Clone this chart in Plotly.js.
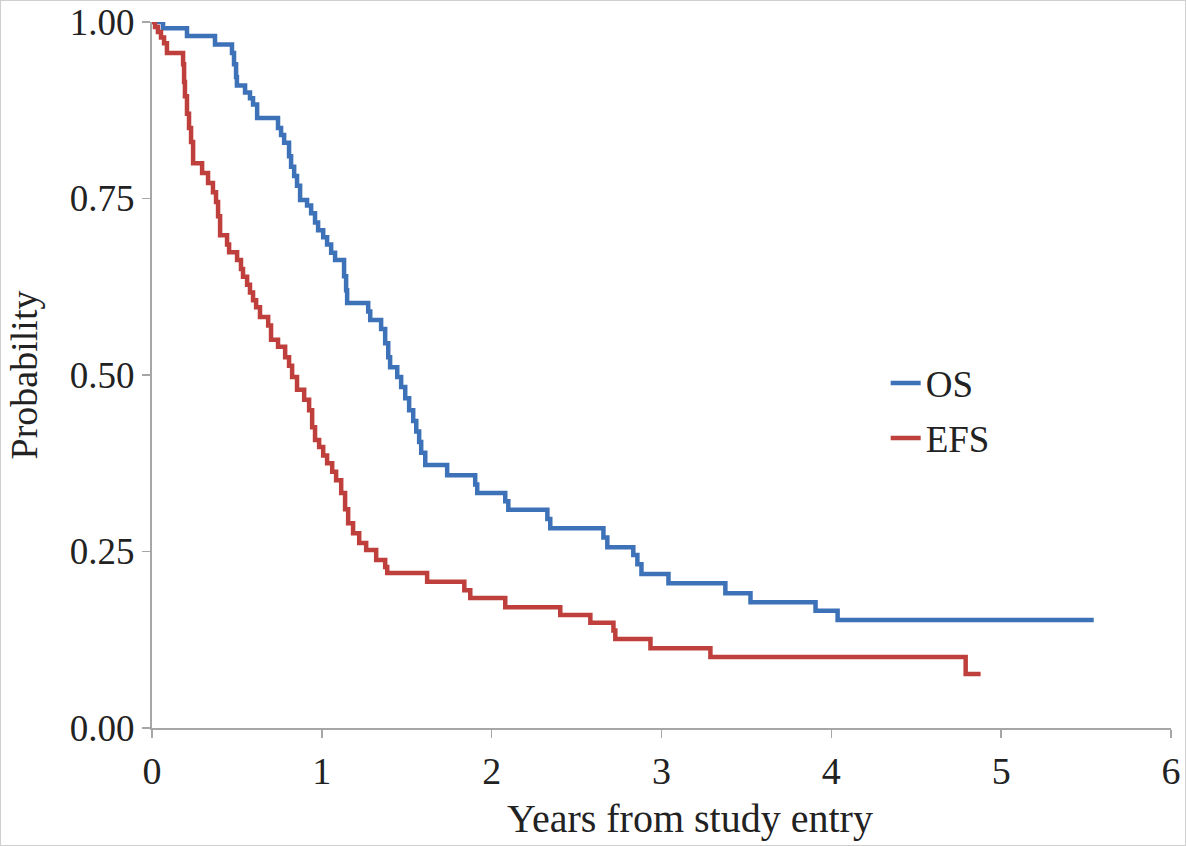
<!DOCTYPE html>
<html>
<head>
<meta charset="utf-8">
<script src="https://cdn.plot.ly/plotly-3.0.1.min.js"></script>
<style>
html,body{margin:0;padding:0;background:#fff;}
#chart{width:1186px;height:846px;box-sizing:border-box;border:1px solid #cfcfcf;}
</style>
</head>
<body>
<div id="chart"></div>
<script>
// Overall survival (OS): event times (years) and survival probability after each step
var osTime = [0, 0.065, 0.206, 0.371, 0.471, 0.483, 0.495, 0.50, 0.548, 0.577, 0.595, 0.619,
  0.742, 0.760, 0.778, 0.807, 0.819, 0.837, 0.854, 0.872, 0.913, 0.937, 0.960, 0.978, 1.008,
  1.031, 1.055, 1.078, 1.131, 1.143, 1.149, 1.273, 1.285, 1.349, 1.373, 1.391, 1.402, 1.444,
  1.467, 1.491, 1.514, 1.538, 1.556, 1.573, 1.585, 1.609, 1.738, 1.903, 1.915, 2.080, 2.098,
  2.328, 2.345, 2.658, 2.681, 2.834, 2.858, 2.882, 3.041, 3.376, 3.524, 3.907, 4.037, 5.545];
var osSurv = [1.0, 0.991, 0.980, 0.968, 0.956, 0.940, 0.922, 0.910, 0.900, 0.892, 0.883, 0.864,
  0.850, 0.840, 0.829, 0.810, 0.795, 0.782, 0.768, 0.748, 0.740, 0.729, 0.716, 0.705, 0.695,
  0.685, 0.673, 0.663, 0.640, 0.620, 0.602, 0.590, 0.578, 0.565, 0.545, 0.525, 0.511, 0.497,
  0.483, 0.467, 0.450, 0.435, 0.420, 0.405, 0.390, 0.3725, 0.358, 0.345, 0.333, 0.321, 0.309,
  0.296, 0.283, 0.270, 0.256, 0.245, 0.232, 0.218, 0.205, 0.191, 0.178, 0.166, 0.153, 0.153];

// Event-free survival (EFS)
var efsTime = [0, 0.018, 0.035, 0.053, 0.071, 0.088, 0.183, 0.189, 0.194, 0.206, 0.218, 0.230,
  0.242, 0.295, 0.330, 0.359, 0.377, 0.389, 0.401, 0.442, 0.454, 0.501, 0.524, 0.536, 0.560,
  0.577, 0.595, 0.613, 0.636, 0.684, 0.701, 0.742, 0.784, 0.807, 0.825, 0.854, 0.896, 0.925,
  0.943, 0.960, 0.984, 1.008, 1.031, 1.061, 1.084, 1.114, 1.137, 1.155, 1.184, 1.220, 1.261,
  1.320, 1.373, 1.385, 1.620, 1.839, 1.874, 2.080, 2.404, 2.581, 2.717, 2.728, 2.935, 3.288,
  4.791, 4.879];
var efsSurv = [1.0, 0.993, 0.986, 0.978, 0.970, 0.956, 0.940, 0.915, 0.895, 0.870, 0.850, 0.830,
  0.800, 0.786, 0.772, 0.759, 0.745, 0.725, 0.698, 0.685, 0.674, 0.663, 0.650, 0.639, 0.628,
  0.617, 0.606, 0.596, 0.582, 0.570, 0.550, 0.540, 0.525, 0.513, 0.497, 0.479, 0.465, 0.450,
  0.426, 0.408, 0.398, 0.386, 0.375, 0.363, 0.351, 0.333, 0.310, 0.290, 0.276, 0.262, 0.252,
  0.238, 0.228, 0.2195, 0.207, 0.195, 0.184, 0.171, 0.160, 0.149, 0.138, 0.126, 0.113, 0.1006,
  0.0765, 0.0765];

var seriesNames = ['OS', 'EFS'];
var xTickVals = [0, 1, 2, 3, 4, 5, 6];
var yTickVals = [0, 0.25, 0.5, 0.75, 1.0];
var yTickText = ['0.00', '0.25', '0.50', '0.75', '1.00'];
var xTitle = 'Years from study entry';
var yTitle = 'Probability';

var serif = 'Liberation Serif, Times New Roman, serif';
var axisGray = '#a6a6a6';
var textColor = '#222';

var traces = [
  {x: osTime, y: osSurv, name: seriesNames[0], type: 'scatter', mode: 'lines',
   line: {shape: 'hv', color: '#3D72B8', width: 4.5}, cliponaxis: false, legendgroup: 'a'},
  {x: efsTime, y: efsSurv, name: seriesNames[1], type: 'scatter', mode: 'lines',
   line: {shape: 'hv', color: '#BE3F3B', width: 4.5}, cliponaxis: false, legendgroup: 'b'}
];

var layout = {
  width: 1184, height: 844,
  margin: {l: 151, r: 14, t: 21, b: 117},
  paper_bgcolor: '#fff', plot_bgcolor: '#fff',
  font: {family: serif, color: textColor},
  showlegend: true,
  legend: {x: 0.72, y: 0.532, xanchor: 'left', yanchor: 'top',
    font: {family: serif, size: 37, color: textColor}, bgcolor: 'rgba(0,0,0,0)',
    tracegroupgap: 4, traceorder: 'grouped'},
  xaxis: {
    range: [0, 6], tickvals: xTickVals, ticktext: xTickVals.map(String),
    showgrid: false, zeroline: false, showline: true, linecolor: axisGray, linewidth: 2,
    ticks: 'outside', ticklen: 8, tickwidth: 1.5, tickcolor: axisGray,
    tickfont: {family: serif, size: 38, color: textColor}
  },
  yaxis: {
    range: [0, 1], tickvals: yTickVals, ticktext: yTickText,
    showgrid: false, zeroline: false, showline: true, linecolor: axisGray, linewidth: 2,
    ticks: 'outside', ticklen: 8, tickwidth: 1.5, tickcolor: axisGray,
    tickfont: {family: serif, size: 37, color: textColor},
    title: {text: yTitle, font: {family: serif, size: 38, color: textColor}, standoff: 21}
  },
  annotations: [
    {text: xTitle, xref: 'paper', yref: 'paper', x: 0.528, y: -0.163,
     xanchor: 'center', yanchor: 'bottom', showarrow: false,
     font: {family: serif, size: 40, color: textColor}}
  ]
};

Plotly.newPlot('chart', traces, layout, {displayModeBar: false, staticPlot: true});
</script>
</body>
</html>
